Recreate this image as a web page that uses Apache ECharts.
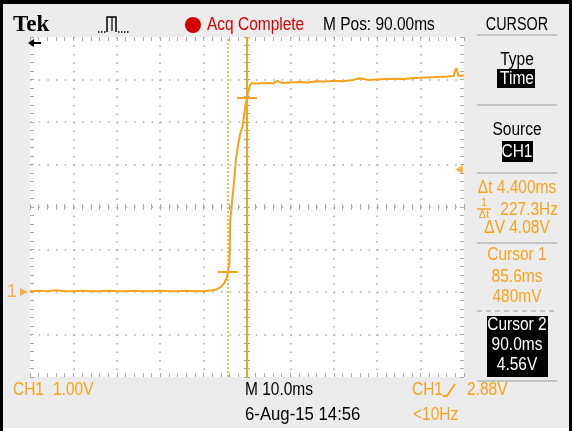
<!DOCTYPE html>
<html>
<head>
<meta charset="utf-8">
<script src="https://cdn.jsdelivr.net/npm/echarts@6/dist/echarts.min.js"></script>
<style>
html, body { margin: 0; padding: 0; background: #fff; }
#scope { width: 572px; height: 431px; }
</style>
</head>
<body>
<div id="scope"></div>
<script>
// CH1 trace: time in ms, level in V
var timeMs = [40, 42, 44, 46, 48, 50, 52, 54, 56, 58, 60, 62, 64, 66, 68, 70, 72, 74, 76, 78, 80, 81, 82, 83, 84,
  84.8, 85.3, 85.6, 85.95, 86.15, 86.5, 87.05, 87.45, 88.0, 88.5, 89.0, 89.5, 89.9, 90.3, 90.7, 91.2,
  92, 94, 96, 97, 98, 100, 102, 104, 106, 108, 110, 112, 114, 116, 118, 120, 122, 124, 126, 128,
  130, 132, 134, 136, 137.6, 138.2, 138.8, 140];
var ch1Volts = [0.02, 0.03, 0.02, 0.04, 0.02, 0.02, 0.03, 0.02, 0.02, 0.03, 0.02, 0.02, 0.03, 0.02, 0.02, 0.03, 0.02, 0.02, 0.03, 0.02, 0.02, 0.03, 0.04, 0.06, 0.12,
  0.22, 0.33, 0.48, 0.64, 1.69, 2.05, 2.64, 3.11, 3.5, 3.75, 3.9, 4.28, 4.52, 4.72, 4.87, 4.92,
  4.9, 4.92, 4.91, 4.97, 4.92, 4.93, 4.94, 4.93, 4.96, 4.95, 4.97, 4.96, 4.98, 5.03, 4.99, 5.0, 5.01, 5.02, 5.01, 5.03,
  5.04, 5.05, 5.06, 5.07, 5.08, 5.27, 5.08, 5.1];

// scope settings
var timeRange = [40, 140];      // ms, 10 ms/div, M Pos 90.00ms at centre
var voltRange = [-2, 6];        // V, 1.00 V/div
var cursorTimes = [85.6, 90.0]; // ms
var cursorVolts = [0.48, 4.56]; // V
var triggerLevel = 2.88;        // V

var ORANGE = '#f7a21b';
var RED = '#d40000';
var GRAT = '#aaaaaa';
var FONT = '"Liberation Sans", Arial, sans-serif';
var NARROW = 0.86;  // the scope font is narrow, squeeze Liberation Sans

var chart = echarts.init(document.getElementById('scope'), null, {renderer: 'canvas'});

// graticule axes: edge ticks, centre ticks
function tickAxis(pos, range, step, inside, offset) {
  return {
    type: 'value', position: pos, min: range[0], max: range[1], interval: step, offset: offset || 0,
    axisLine: {show: false, onZero: false},
    axisTick: {show: true, inside: inside, length: 4, lineStyle: {color: GRAT, width: 1}},
    minorTick: {show: true, splitNumber: 5, length: 4, lineStyle: {color: GRAT, width: 1}},
    axisLabel: {show: false},
    splitLine: {show: false}
  };
}

var xMain = tickAxis('bottom', timeRange, 10, true);
xMain.splitLine = {show: true, showMinLine: false, showMaxLine: false,
  lineStyle: {color: GRAT, width: 1.5, type: [1.5, 7]}};
var yMain = tickAxis('left', voltRange, 1, true);
yMain.splitLine = {show: true, showMinLine: false, showMaxLine: false,
  lineStyle: {color: GRAT, width: 1.5, type: [1.5, 7.18]}};

var xCentreA = tickAxis('bottom', timeRange, 10, true, -170);
var xCentreB = tickAxis('bottom', timeRange, 10, false, -170);
var yCentreA = tickAxis('left', voltRange, 1, true, -217);
var yCentreB = tickAxis('left', voltRange, 1, false, -217);
[xCentreA, xCentreB, yCentreA, yCentreB].forEach(function (a) {
  a.axisTick.length = 3; a.minorTick.length = 3;
});

function txt(x, y, s, color, align, size, weight, family, sx) {
  return {
    type: 'text', z: 20, x: x, y: y, scaleX: sx == null ? NARROW : sx,
    style: {
      x: 0, y: 0, text: s, fill: color,
      font: (weight || 'normal') + ' ' + (size || 18) + 'px ' + (family || FONT),
      textAlign: align || 'left', textVerticalAlign: 'middle',
      align: align || 'left', verticalAlign: 'middle'
    }
  };
}
function hline(x1, x2, y, color, w, dash) {
  return {type: 'line', z: 15, shape: {x1: x1, y1: y, x2: x2, y2: y},
    style: {stroke: color, lineWidth: w || 2, lineDash: dash || null}};
}
function box(x, y, w, h, color) {
  return {type: 'rect', z: 12, shape: {x: x, y: y, width: w, height: h}, style: {fill: color}};
}

// readouts from the cursors
var dT = cursorTimes[1] - cursorTimes[0];
var dV = cursorVolts[1] - cursorVolts[0];
var readDt = dT.toFixed(3) + 'ms';
var readHz = (1000 / dT).toFixed(1) + 'Hz';
var readDv = dV.toFixed(2) + 'V';
var c1t = cursorTimes[0].toFixed(1) + 'ms', c1v = Math.round(cursorVolts[0] * 1000) + 'mV';
var c2t = cursorTimes[1].toFixed(1) + 'ms', c2v = cursorVolts[1].toFixed(2) + 'V';

var cx = 517;
var graphics = [
  // frame
  box(0, 0, 572, 4, '#000'),
  box(0, 0, 3, 431, '#000'),
  box(569, 0, 3, 431, '#000'),
  box(3, 428, 566, 3, '#fff'),
  // header
  txt(13, 25, 'Tek', '#000', 'left', 23, 'bold', '"Liberation Serif", "DejaVu Serif", serif', 1),
  {type: 'line', z: 15, shape: {x1: 98, y1: 32, x2: 106, y2: 32}, style: {stroke: '#000', lineWidth: 1.5, lineDash: [1.5, 1.5]}},
  {type: 'polyline', z: 15, shape: {points: [[107, 32], [107, 17], [116, 17], [116, 32]]}, style: {stroke: '#000', lineWidth: 1.5, fill: null}},
  {type: 'line', z: 15, shape: {x1: 112, y1: 17, x2: 112, y2: 31}, style: {stroke: '#000', lineWidth: 1.2}},
  {type: 'line', z: 15, shape: {x1: 118, y1: 32, x2: 130, y2: 32}, style: {stroke: '#000', lineWidth: 1.5, lineDash: [1.5, 1.5]}},
  {type: 'circle', z: 15, shape: {cx: 193, cy: 25, r: 8}, style: {fill: RED}},
  txt(207, 25, 'Acq Complete', RED),
  txt(323, 25, 'M Pos: 90.00ms', '#000'),
  txt(cx, 25, 'CURSOR', '#000', 'center', 18, 'normal', null, 0.8),
  // trigger position arrow, top left
  {type: 'polygon', z: 15, shape: {points: [[28, 43], [34, 39], [34, 47]]}, style: {fill: '#000'}},
  {type: 'line', z: 15, shape: {x1: 33, y1: 43, x2: 41, y2: 43}, style: {stroke: '#000', lineWidth: 2}},
  // side menu
  hline(477, 557, 35, '#c4c4c4'),
  txt(cx, 60, 'Type', '#000', 'center'),
  box(497, 69, 38, 19, '#000'),
  txt(cx, 79, 'Time', '#fff', 'center'),
  hline(477, 557, 105, '#c4c4c4'),
  txt(cx, 130, 'Source', '#000', 'center'),
  box(502, 141, 31, 21, '#000'),
  txt(cx, 152, 'CH1', '#fff', 'center'),
  hline(477, 557, 173, '#c4c4c4'),
  txt(cx, 188, '\u0394t ' + readDt, ORANGE, 'center'),
  txt(484, 203, '1', ORANGE, 'center', 11, 'normal', null, 1),
  hline(477, 491, 209, ORANGE, 1.3),
  txt(484, 215, '\u0394t', ORANGE, 'center', 11, 'normal', null, 1),
  txt(558, 210, readHz, ORANGE, 'right'),
  txt(cx, 228, '\u0394V ' + readDv, ORANGE, 'center'),
  hline(477, 557, 243, '#c4c4c4'),
  txt(cx, 255, 'Cursor 1', ORANGE, 'center'),
  txt(cx, 277, c1t, ORANGE, 'center'),
  txt(cx, 297, c1v, ORANGE, 'center'),
  hline(477, 557, 311, '#c4c4c4', 2, [5, 4]),
  box(487, 316, 61, 61, '#000'),
  txt(cx, 325, 'Cursor 2', '#fff', 'center'),
  txt(cx, 345, c2t, '#fff', 'center'),
  txt(cx, 365, c2v, '#fff', 'center'),
  hline(477, 557, 381, '#c4c4c4'),
  // bottom readouts
  txt(13, 390, 'CH1', ORANGE),
  txt(53, 390, '1.00V', ORANGE),
  txt(245, 390, 'M 10.0ms', '#000'),
  txt(245, 415, '6-Aug-15 14:56', '#000', 'left', 18, 'normal', null, 0.93),
  txt(412, 390, 'CH1', ORANGE),
  {type: 'polyline', z: 15, shape: {points: [[443, 396], [447, 396], [455, 384]]}, style: {stroke: ORANGE, lineWidth: 1.8, fill: null}},
  txt(467, 390, triggerLevel.toFixed(2) + 'V', ORANGE),
  txt(413, 415, '<10Hz', ORANGE)
];

var option = {
  animation: false,
  backgroundColor: '#ececec',
  grid: {left: 30, top: 37, width: 434, height: 340, show: true, backgroundColor: '#fff', borderWidth: 0},
  xAxis: [xMain, tickAxis('top', timeRange, 10, true), xCentreA, xCentreB],
  yAxis: [yMain, tickAxis('right', voltRange, 1, true), yCentreA, yCentreB],
  graphic: graphics,
  series: [
    {
      name: 'CH1', type: 'line', xAxisIndex: 0, yAxisIndex: 0, z: 5,
      data: timeMs.map(function (t, i) { return [t, ch1Volts[i]]; }),
      symbol: 'none', showSymbol: false,
      lineStyle: {color: ORANGE, width: 2},
      markLine: {
        silent: true, symbol: ['none', 'none'], label: {show: false},
        lineStyle: {color: ORANGE, width: 2, type: 'solid'},
        data: [
          {xAxis: cursorTimes[0], lineStyle: {color: ORANGE, width: 1.5, type: [2, 2]}},
          {xAxis: cursorTimes[1]},
          [{coord: [cursorTimes[0] - 2.3, cursorVolts[0]]}, {coord: [cursorTimes[0] + 2.3, cursorVolts[0]]}],
          [{coord: [cursorTimes[1] - 2.3, cursorVolts[1]]}, {coord: [cursorTimes[1] + 2.3, cursorVolts[1]]}]
        ]
      }
    },
    {
      // ground reference marker "1"
      type: 'scatter', clip: false, z: 6, silent: true,
      data: [[timeRange[0], 0]],
      symbol: 'triangle', symbolSize: [8, 8], symbolRotate: -90, symbolOffset: [-6, 0],
      itemStyle: {color: ORANGE},
      label: {show: true, formatter: '1', position: 'left', distance: 3, color: ORANGE, fontSize: 18, fontFamily: FONT}
    },
    {
      // trigger level marker
      type: 'scatter', clip: false, z: 6, silent: true,
      data: [[timeRange[1], triggerLevel]],
      symbol: 'triangle', symbolSize: [9, 8], symbolRotate: 90, symbolOffset: [-5, 0],
      itemStyle: {color: ORANGE}
    }
  ]
};

chart.setOption(option);
</script>
</body>
</html>
